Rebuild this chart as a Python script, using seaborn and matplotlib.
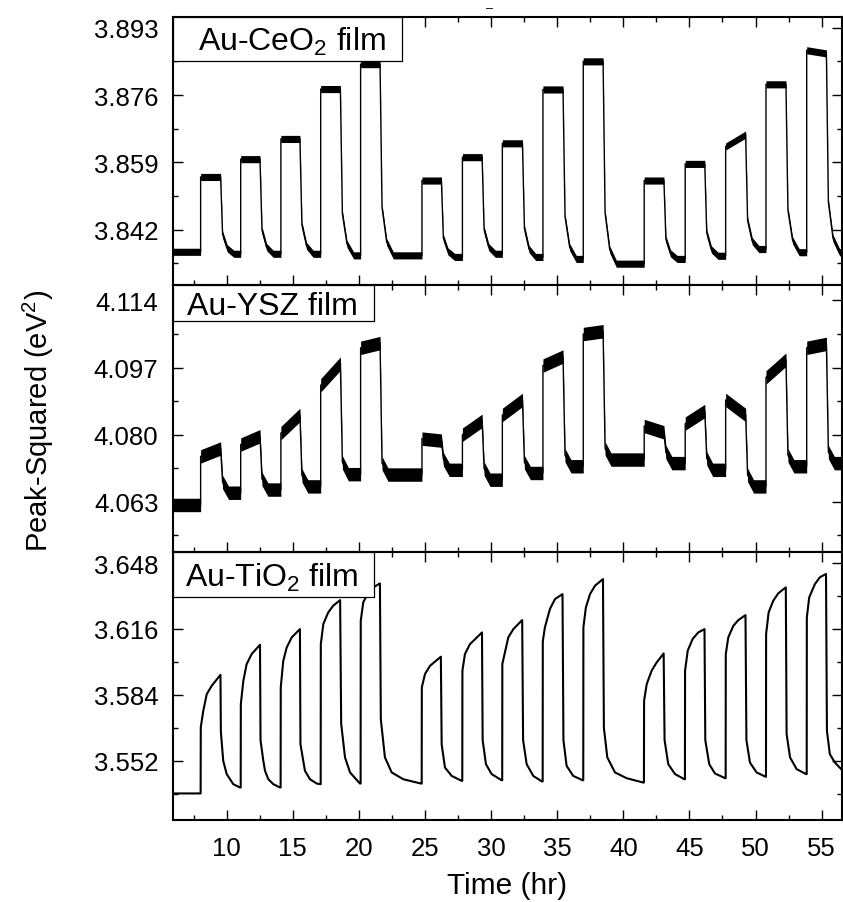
import numpy as np
import pandas as pd
import matplotlib
matplotlib.use("Agg")
import matplotlib.pyplot as plt
import seaborn as sns
from matplotlib.patches import Rectangle
from matplotlib.ticker import MultipleLocator, FixedLocator, FormatStrFormatter

sns.set_theme(style="ticks")
plt.rcParams["font.family"] = ["Liberation Sans", "DejaVu Sans"]
plt.rcParams["mathtext.fontset"] = "custom"
plt.rcParams["mathtext.rm"] = "Liberation Sans"
plt.rcParams["mathtext.it"] = "Liberation Sans:italic"
plt.rcParams["mathtext.bf"] = "Liberation Sans:bold"
plt.rcParams["mathtext.default"] = "regular"
plt.rcParams["text.color"] = "black"
plt.rcParams["axes.labelcolor"] = "black"

# ---------------- data ----------------
t_start, t_end = 5.94, 56.6
pulse_on = [8.03, 11.06, 14.10, 17.11, 20.13, 24.77, 27.83, 30.85, 33.92, 36.97,
            41.58, 44.68, 47.74, 50.79, 53.87]
pulse_off = [9.54, 12.52, 15.54, 18.60, 21.60, 26.24, 29.32, 32.37, 35.44, 38.47,
             43.07, 46.16, 49.25, 52.30, 55.36]

# Au-CeO2 film
ceo2_base = [3.8364, 3.8359, 3.8359, 3.8359, 3.8355, 3.8355, 3.8351, 3.8359, 3.8351,
             3.8346, 3.8334, 3.8346, 3.8354, 3.8371, 3.8363, 3.8363]
ceo2_top_start = [3.8553, 3.8598, 3.8649, 3.8775, 3.8838, 3.8544, 3.8603, 3.8638,
                  3.8774, 3.8845, 3.8544, 3.8586, 3.8630, 3.8787, 3.8873]
ceo2_top_end = [3.8553, 3.8598, 3.8649, 3.8775, 3.8838, 3.8544, 3.8603, 3.8638,
                3.8774, 3.8845, 3.8544, 3.8586, 3.8660, 3.8787, 3.8865]
ceo2_fall1 = [3.8408, 3.8419, 3.8432, 3.8460, 3.8476, 3.8399, 3.8420, 3.8423,
              3.8453, 3.8462, 3.8396, 3.8412, 3.8443, 3.8469, 3.8489]
ceo2_fall2 = [3.8373, 3.8376, 3.8379, 3.8384, 3.8389, 3.8365, 3.8376, 3.8371,
              3.8376, 3.8370, 3.8360, 3.8370, 3.8391, 3.8393, 3.8398]
ceo2_noise = 0.0009

# Au-YSZ film
ysz_base = [4.0622, 4.0653, 4.0661, 4.0669, 4.0700, 4.0699, 4.0711, 4.0686, 4.0703,
            4.0720, 4.0737, 4.0728, 4.0711, 4.0669, 4.0720, 4.0728]
ysz_top_start = [4.0745, 4.0775, 4.0804, 4.0925, 4.1020, 4.0790, 4.0800, 4.0850,
                 4.0975, 4.1055, 4.0822, 4.0828, 4.0888, 4.0945, 4.1020]
ysz_top_end = [4.0765, 4.0796, 4.0850, 4.0980, 4.1032, 4.0785, 4.0835, 4.0888,
               4.0998, 4.1062, 4.0806, 4.0860, 4.0850, 4.0990, 4.1030]
ysz_fall1 = [4.0680, 4.0688, 4.0697, 4.0730, 4.0728, 4.0738, 4.0714, 4.0730,
             4.0748, 4.0765, 4.0756, 4.0740, 4.0698, 4.0748, 4.0756]
ysz_noise = 0.0017

# Au-TiO2 film
tio2_t = [5.94, 8.03,
          8.04, 8.23, 8.49, 8.87, 9.53, 9.56, 9.74, 10.0, 10.5, 11.0,
          11.06, 11.07, 11.26, 11.51, 11.89, 12.52, 12.56, 12.77, 12.90, 13.15, 13.53, 14.03,
          14.08, 14.09, 14.28, 14.54, 14.92, 15.54, 15.58, 15.92, 16.30, 16.81, 17.08,
          17.11, 17.12, 17.31, 17.68, 18.06, 18.58, 18.66, 18.95, 19.33, 20.08,
          20.13, 20.14, 20.33, 20.71, 21.09, 21.59, 21.66, 21.97, 22.48, 23.36, 24.70,
          24.75, 24.76, 25.00, 25.38, 26.20, 26.26, 26.51, 27.02, 27.78,
          27.82, 27.83, 28.02, 28.40, 29.31, 29.36, 29.61, 30.04, 30.80,
          30.84, 30.85, 31.30, 31.68, 32.35, 32.42, 32.69, 33.19, 33.85,
          33.90, 33.91, 34.07, 34.45, 34.83, 35.40, 35.47, 35.71, 36.21, 36.93,
          36.97, 36.98, 37.17, 37.48, 37.86, 38.46, 38.53, 38.79, 39.37, 40.25, 41.50,
          41.56, 41.57, 41.77, 42.14, 42.52, 43.05, 43.12, 43.40, 43.91, 44.62,
          44.66, 44.67, 44.87, 45.24, 45.67, 46.14, 46.20, 46.50, 46.93, 47.70,
          47.74, 47.75, 47.94, 48.32, 48.70, 49.24, 49.31, 49.58, 50.08, 50.76,
          50.79, 50.80, 50.99, 51.34, 51.72, 52.29, 52.35, 52.61, 53.11, 53.82,
          53.87, 53.88, 54.06, 54.49, 54.87, 55.33, 55.40, 55.62, 56.00, 56.60]
tio2_v = [3.5361, 3.5361,
          3.5682, 3.5762, 3.5843, 3.5884, 3.5937, 3.5660, 3.5519, 3.5455, 3.5406, 3.5390,
          3.5390, 3.5795, 3.5908, 3.5989, 3.6038, 3.6083, 3.5620, 3.5520, 3.5471, 3.5430, 3.5406, 3.5390,
          3.5390, 3.5876, 3.6005, 3.6070, 3.6119, 3.6159, 3.5600, 3.5471, 3.5430, 3.5409, 3.5406,
          3.5406, 3.6086, 3.6184, 3.6240, 3.6273, 3.6300, 3.5700, 3.5536, 3.5463, 3.5409,
          3.5409, 3.6200, 3.6289, 3.6338, 3.6362, 3.6381, 3.5720, 3.5536, 3.5463, 3.5430, 3.5409,
          3.5409, 3.5876, 3.5941, 3.5981, 3.6025, 3.5600, 3.5487, 3.5446, 3.5422,
          3.5422, 3.5957, 3.6038, 3.6086, 3.6143, 3.5620, 3.5503, 3.5455, 3.5425,
          3.5425, 3.5990, 3.6119, 3.6159, 3.6203, 3.5620, 3.5503, 3.5446, 3.5419,
          3.5419, 3.6100, 3.6168, 3.6257, 3.6305, 3.6329, 3.5620, 3.5495, 3.5446, 3.5425,
          3.5425, 3.6168, 3.6265, 3.6329, 3.6370, 3.6402, 3.5680, 3.5536, 3.5463, 3.5435, 3.5414,
          3.5414, 3.5811, 3.5892, 3.5957, 3.5997, 3.6041, 3.5620, 3.5503, 3.5455, 3.5430,
          3.5430, 3.5957, 3.6054, 3.6111, 3.6143, 3.6159, 3.5620, 3.5503, 3.5458, 3.5435,
          3.5435, 3.6038, 3.6119, 3.6175, 3.6203, 3.6227, 3.5620, 3.5511, 3.5463, 3.5442,
          3.5442, 3.6135, 3.6240, 3.6297, 3.6333, 3.6362, 3.5650, 3.5536, 3.5479, 3.5455,
          3.5455, 3.6216, 3.6313, 3.6378, 3.6411, 3.6427, 3.5665, 3.5552, 3.5511, 3.5471]

labels = ["Au-CeO$_2$ film", "Au-YSZ film", "Au-TiO$_2$ film"]
yticks_list = [[3.842, 3.859, 3.876, 3.893],
               [4.063, 4.080, 4.097, 4.114],
               [3.552, 3.584, 3.616, 3.648]]
yminor_list = [[3.8335, 3.8505, 3.8675, 3.8845],
               [4.0545, 4.0715, 4.0885, 4.1055],
               [3.536, 3.568, 3.600, 3.632]]
ylims = [(3.8281, 3.8957), (4.0502, 4.1180), (3.5232, 3.6532)]


def build_trace(base, top_s, top_e, fall1, fall2=None, settle=1.0):
    t = [t_start]
    v = [base[0]]
    for i in range(len(pulse_on)):
        t += [pulse_on[i], pulse_on[i], pulse_off[i], pulse_off[i] + 0.15]
        v += [base[i], top_s[i], top_e[i], fall1[i]]
        if fall2 is not None:
            t.append(pulse_off[i] + 0.5)
            v.append(fall2[i])
        nxt = pulse_on[i + 1] if i + 1 < len(pulse_on) else t_end
        t += [min(pulse_off[i] + settle, nxt), nxt]
        v += [base[i + 1], base[i + 1]]
    return np.array(t), np.array(v)


ceo2_t, ceo2_v = build_trace(ceo2_base, ceo2_top_start, ceo2_top_end,
                             ceo2_fall1, ceo2_fall2, settle=1.0)
ysz_t, ysz_v = build_trace(ysz_base, ysz_top_start, ysz_top_end, ysz_fall1, settle=0.6)

traces = [(ceo2_t, ceo2_v, ceo2_noise, 1.0),
          (ysz_t, ysz_v, ysz_noise, 1.0),
          (np.array(tio2_t), np.array(tio2_v), 0.0, 1.5)]

# ---------------- figure ----------------
fig = plt.figure(figsize=(8.43, 9.03), dpi=100)
gs = fig.add_gridspec(3, 1, left=173 / 843, right=842 / 843,
                      top=1 - 18 / 903, bottom=1 - 821 / 903, hspace=0)
axes = [fig.add_subplot(gs[i]) for i in range(3)]

boxes = [  # (rect width, rect bottom, text x, text baseline y) in axes fraction
    (0.342, 0.837, 0.0374, 0.878),
    (0.300, 0.866, 0.0209, 0.889),
    (0.300, 0.833, 0.0179, 0.873),
]

for i, ax in enumerate(axes):
    t, v, hw, lw = traces[i]
    df = pd.DataFrame({"t": t, "v": v})
    if hw > 0:
        ax.fill_between(df["t"], df["v"] - hw, df["v"] + hw, color="black", lw=0, zorder=2)
    sns.lineplot(data=df, x="t", y="v", ax=ax, color="black", lw=lw,
                 sort=False, estimator=None, zorder=3)
    ax.set_xlim(5.94, 56.54)
    ax.set_ylim(*ylims[i])
    ax.yaxis.set_major_locator(FixedLocator(yticks_list[i]))
    ax.yaxis.set_minor_locator(FixedLocator(yminor_list[i]))
    ax.yaxis.set_major_formatter(FormatStrFormatter("%.3f"))
    ax.xaxis.set_major_locator(MultipleLocator(5))
    ax.xaxis.set_minor_locator(MultipleLocator(2.5))
    ax.tick_params(which="both", direction="in", top=True, right=True,
                   width=1.0, colors="black", labelsize=18.5)
    ax.tick_params(which="major", length=7)
    ax.tick_params(which="minor", length=3.5)
    ax.tick_params(axis="y", pad=10.5)
    ax.tick_params(axis="x", pad=11.5)
    for s in ax.spines.values():
        s.set_linewidth(1.5)
        s.set_color("black")
    ax.set_xlabel("")
    ax.set_ylabel("")
    if i < 2:
        ax.tick_params(axis="x", labelbottom=False)
    w, b, tx, ty = boxes[i]
    ax.add_patch(Rectangle((0, b), w, 1 - b, transform=ax.transAxes,
                           facecolor="white", edgecolor="black", lw=0.9, zorder=5))
    ax.text(tx, ty, labels[i], transform=ax.transAxes, fontsize=23, color="black",
            ha="left", va="baseline", zorder=6)

axes[2].set_xlabel("Time (hr)", fontsize=21.5, labelpad=8, color="black")
fig.text(38 / 843, 1 - 421 / 903, "Peak-Squared (eV$^2$)", rotation=90,
         ha="center", va="center", fontsize=21, color="black")
fig.text(490 / 843, 1 - 9 / 903, "\u2013", fontsize=9, ha="center", va="center")

fig.savefig("out.png", dpi=100)
